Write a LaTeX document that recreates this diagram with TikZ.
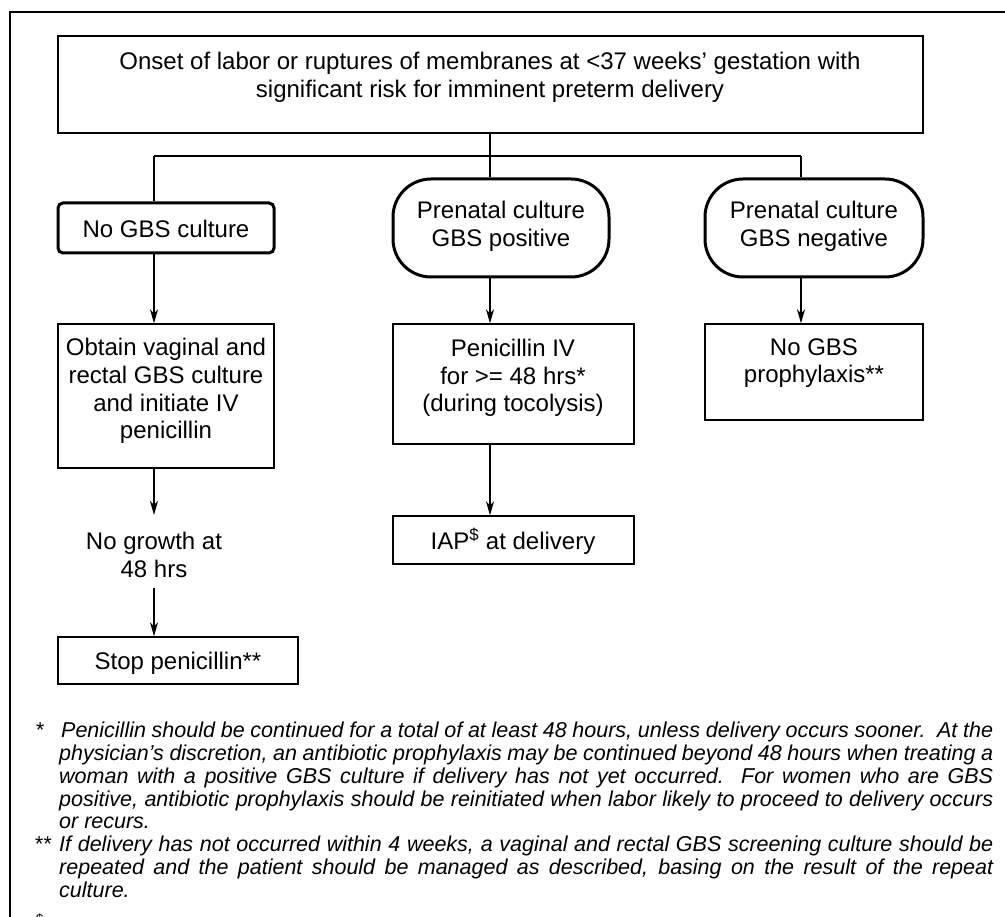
\documentclass[tikz,border=0pt]{standalone}
\usepackage{fontspec}
\setmainfont{Liberation Sans}
\usetikzlibrary{arrows.meta}
\begin{document}
\begin{tikzpicture}[x=1pt,y=-1pt,
  box/.style={draw, line width=1.4pt, inner sep=0pt},
  thickbox/.style={draw, line width=3pt, inner sep=0pt},
  txt/.style={font=\fontsize{24}{27.6}\selectfont, align=center, inner sep=0pt},
  note/.style={font=\fontsize{21.5}{23}\selectfont\itshape, anchor=base west, inner sep=0pt},
  conn/.style={line width=1.4pt},
  trunk/.style={line width=2.6pt},
  arr/.style={line width=1.4pt, -{Stealth[length=14pt,width=8pt,inset=4pt]}},
]
\useasboundingbox (0,0) rectangle (1005,917);
\draw[line width=1.5pt] (1012,12) -- (10,12) -- (10,930);

% boxes
\node[box, minimum width=865pt, minimum height=97pt] (top) at (490.5,84.5) {};
\node[thickbox, rounded corners=5pt, minimum width=216pt, minimum height=50pt] (nogbs) at (166,228) {};
\node[thickbox, rounded corners=38pt, minimum width=216pt, minimum height=98pt] (pos) at (501,228) {};
\node[thickbox, rounded corners=38pt, minimum width=218pt, minimum height=98pt] (neg) at (814,228) {};
\node[box, minimum width=216pt, minimum height=144pt] (obtain) at (166,396) {};
\node[box, minimum width=241pt, minimum height=120pt] (pen) at (513.5,384) {};
\node[box, minimum width=218pt, minimum height=96pt] (nopro) at (814,372) {};
\node[box, minimum width=241pt, minimum height=48pt] (iap) at (513.5,540) {};
\node[box, minimum width=240pt, minimum height=47pt] (stop) at (178,660.5) {};

% texts
\node[txt] (toptext) at (490,77) {Onset of labor or ruptures of membranes at <37 weeks’ gestation with\\significant risk for imminent preterm delivery};
\node[txt] (nogbstext) at (166,229) {No GBS culture};
\node[txt] (postext) at (501,226) {Prenatal culture\\GBS positive};
\node[txt] (negtext) at (814,226) {Prenatal culture\\GBS negative};
\node[txt] (obtaintext) at (166,391) {Obtain vaginal and\\rectal GBS culture\\and initiate IV\\penicillin};
\node[txt] (pentext) at (513,378) {Penicillin IV\\for >= 48 hrs*\\(during tocolysis)};
\node[txt] (noprotext) at (814,363) {No GBS\\prophylaxis**};
\node[txt] (iaptext) at (513,541) {IAP\textsuperscript{\$} at delivery};
\node[txt] (nogrowth) at (154,555) {No growth at\\48 hrs};
\node[txt] (stoptext) at (178,663) {Stop penicillin**};

% connectors
\coordinate (jL) at (154,156);
\coordinate (jM) at (490,156);
\coordinate (jR) at (801,156);
\coordinate (ngin) at (154,515);
\coordinate (ngout) at (154,588);
\draw[conn] (jM |- top.south) -- (jM);
\draw[trunk] (jL) -- (jR);
\draw[conn] (jL) -- (jL |- nogbs.north);
\draw[conn] (jM) -- (jM |- pos.north);
\draw[conn] (jR) -- (jR |- neg.north);
\draw[arr] (jL |- nogbs.south) -- (jL |- obtain.north);
\draw[arr] (jM |- pos.south) -- (jM |- pen.north);
\draw[arr] (jR |- neg.south) -- (jR |- nopro.north);
\draw[arr] (jL |- obtain.south) -- (ngin);
\draw[arr] (ngout) -- (jL |- stop.north);
\draw[arr] (jM |- pen.south) -- (jM |- iap.north);

% footnotes
\node[note] (s1) at (35,737) {*};
\node[note] (f1) at (61,737) {\makebox[932pt][s]{Penicillin should be continued for a total of at least 48 hours, unless delivery occurs sooner.\ \ At the}};
\node[note] (f2) at (59,760) {\makebox[934pt][s]{physician’s discretion, an antibiotic prophylaxis may be continued beyond 48 hours when treating a}};
\node[note] (f3) at (59,783) {\makebox[934pt][s]{woman with a positive GBS culture if delivery has not yet occurred.\ \ For women who are GBS}};
\node[note] (f4) at (59,806) {\makebox[934pt][s]{positive, antibiotic prophylaxis should be reinitiated when labor likely to proceed to delivery occurs}};
\node[note] (f5) at (59,828) {or recurs.};
\node[note] (s2) at (34,851) {**};
\node[note] (f6) at (59,851) {\makebox[934pt][s]{If delivery has not occurred within 4 weeks, a vaginal and rectal GBS screening culture should be}};
\node[note] (f7) at (59,874) {\makebox[934pt][s]{repeated and the patient should be managed as described, basing on the result of the repeat}};
\node[note] (f8) at (59,897) {culture.};
\node[note, font=\fontsize{13}{14}\selectfont] (s3) at (36,923) {\$};
\end{tikzpicture}
\end{document}
